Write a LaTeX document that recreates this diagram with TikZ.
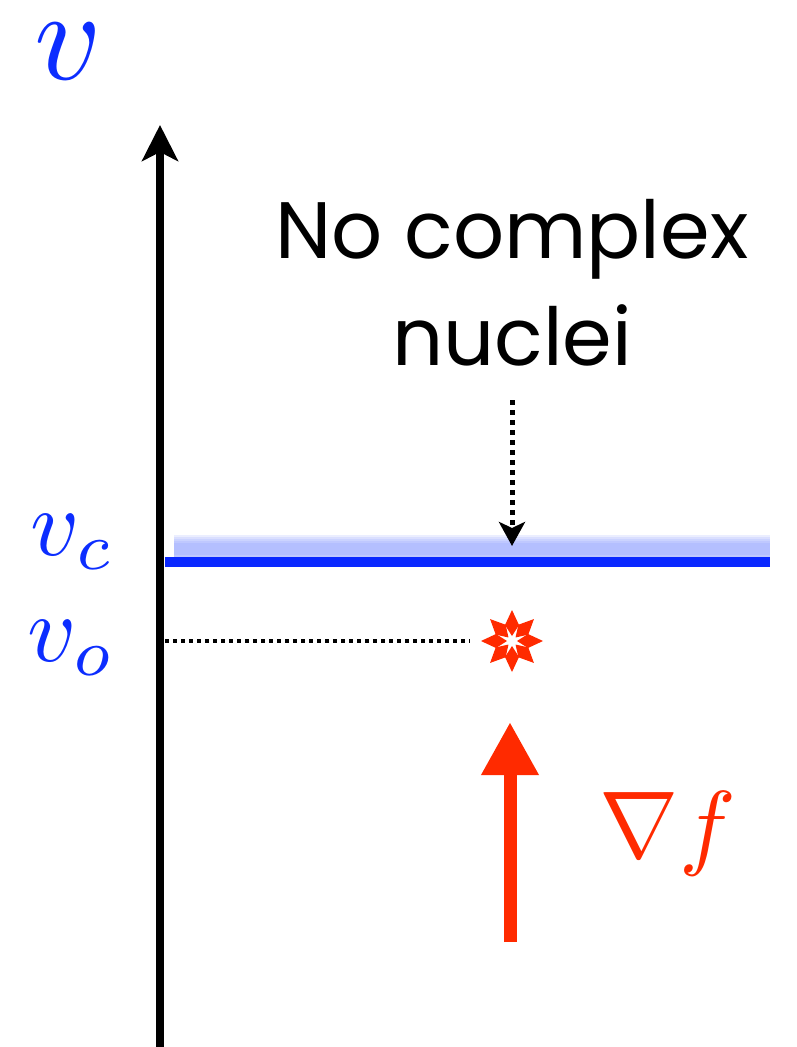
\documentclass[tikz,border=0pt]{standalone}
\usepackage{fontspec}
\newfontfamily\labelfont{Poppins}
\usetikzlibrary{arrows.meta}
\definecolor{vblue}{RGB}{12,45,255}
\definecolor{lblue}{RGB}{10,40,255}
\definecolor{gblue}{RGB}{120,140,255}
\definecolor{fred}{RGB}{255,42,0}
\tikzset{
  axisline/.style={line width=8pt,-{Stealth[length=36pt,width=36pt,inset=9pt]}},
  dotline/.style={line width=4pt,dash pattern=on 4pt off 4pt},
  dotarrow/.style={line width=5pt,dash pattern=on 5pt off 5pt,-{Stealth[length=24pt,width=26pt,inset=6pt]}},
  gradarrow/.style={fred,line width=13pt,-{Triangle[length=53pt,width=54pt]}},
  mathlab/.style={inner sep=0pt,text=vblue},
  bigtext/.style={inner sep=0pt,align=center,font=\labelfont\fontsize{80}{107}\selectfont}
}
\begin{document}
\begin{tikzpicture}[x=1pt,y=-1pt]
\useasboundingbox (0,0) rectangle (797,1047);
% coordinates
\coordinate (axbot) at (160,1047);
\coordinate (axtop) at (160,125);
\coordinate (cl) at (165,562);
\coordinate (cr) at (770,562);
\coordinate (ol) at (165,641);
\coordinate (or) at (470,641);
\coordinate (dtop) at (512,400);
\coordinate (dbot) at (512,546);
\coordinate (gbot) at (510,942);
\coordinate (gtop) at (510,722);
% glow
\foreach \w in {28,24,20,16,12}
  \draw[gblue,opacity=0.15,line width=\w pt] (174,549) -- (770,549);
% critical line
\draw[lblue,line width=10pt] (cl) -- (cr);
% axis
\draw[axisline] (axbot) -- (axtop);
% labels
\node[mathlab,scale=13,anchor=base west] (vlab) at (32,79) {$v$};
\node[mathlab,scale=9.5,anchor=base west] (vc) at (29,555) {$v_c$};
\node[mathlab,scale=9.5,anchor=base west] (vo) at (26,661) {$v_o$};
% text
\node[bigtext,anchor=base] (txt) at (512,365) {No complex\\nuclei};
% dotted arrow
\draw[dotarrow] (dtop) -- (dbot);
% dotted line to star
\draw[dotline] (ol) -- (or);
% star
\node[inner sep=0pt,minimum size=62pt] (star) at (512,641) {};
\begin{scope}[shift={(star.center)}]
\foreach \a in {0,45,...,315}
  \fill[fred,rotate=\a] (5,0) -- (16,-7) -- (31,0) -- (16,7) -- cycle;
\end{scope}
% gradient arrow
\draw[gradarrow] (gbot) -- (gtop);
\node[inner sep=0pt,text=fred,scale=9.5,anchor=base west] (grad) at (598,857) {$\nabla f$};
\end{tikzpicture}
\end{document}
